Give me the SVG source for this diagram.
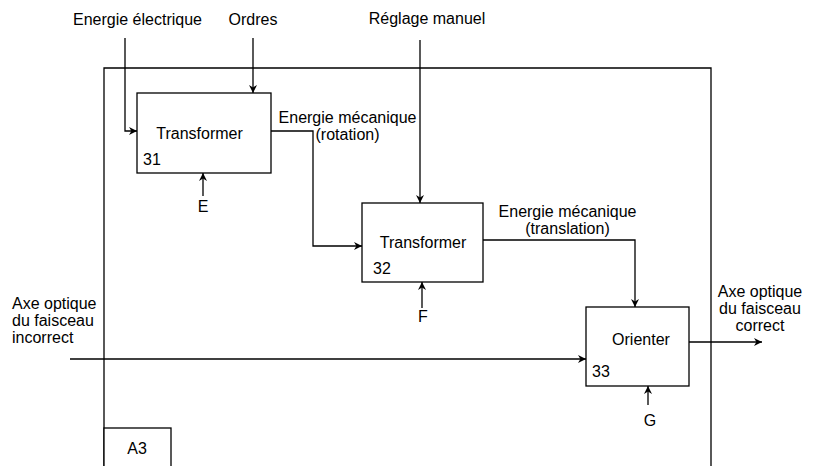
<svg xmlns="http://www.w3.org/2000/svg" width="817" height="466" viewBox="0 0 817 466">
<style>
.t{font-family:"Liberation Sans",Arial,sans-serif;font-size:16px;fill:#000}
.m{text-anchor:middle}
.b{fill:#fff;stroke:#000;stroke-width:1.3}
.c{fill:none;stroke:#000;stroke-width:1.3}
</style>
<defs>
<marker id="a" viewBox="0 0 10 10" refX="10" refY="5" markerWidth="8" markerHeight="8" markerUnits="userSpaceOnUse" orient="auto">
<path d="M0,0 L10,5 L0,10 L3,5 Z" fill="#000"/>
</marker>
</defs>
<rect width="817" height="466" fill="#fff"/>
<g id="frame">
<path class="c" d="M104,466 V68 H711 V466"/>
<rect class="b" x="104" y="428" width="67" height="40"/>
<text class="t m" x="137" y="454">A3</text>
</g>
<g id="connectors">
<path class="c" d="M125,38 V131 H137" marker-end="url(#a)"/>
<path class="c" d="M253,38 V93" marker-end="url(#a)"/>
<path class="c" d="M203,196 V173" marker-end="url(#a)"/>
<path class="c" d="M271,131 H313 V246 H362" marker-end="url(#a)"/>
<path class="c" d="M420,40 V203" marker-end="url(#a)"/>
<path class="c" d="M422,308 V282" marker-end="url(#a)"/>
<path class="c" d="M483,240 H635 V307" marker-end="url(#a)"/>
<path class="c" d="M70,359 H586" marker-end="url(#a)"/>
<path class="c" d="M648,405 V386" marker-end="url(#a)"/>
<path class="c" d="M689,342 H762" marker-end="url(#a)"/>
</g>
<g id="labels">
<text class="t" x="73" y="25">Energie électrique</text>
<text class="t m" x="253" y="25">Ordres</text>
<text class="t m" x="427" y="24">Réglage manuel</text>
<text class="t m" x="347.5" y="123">Energie mécanique</text>
<text class="t m" x="347.5" y="140">(rotation)</text>
<text class="t m" x="203" y="212">E</text>
<text class="t m" x="567.5" y="217">Energie mécanique</text>
<text class="t m" x="567.5" y="234">(translation)</text>
<text class="t m" x="423" y="322">F</text>
<text class="t" x="12" y="309">Axe optique</text>
<text class="t" x="12" y="326">du faisceau</text>
<text class="t" x="12" y="343">incorrect</text>
<text class="t m" x="760" y="297">Axe optique</text>
<text class="t m" x="760" y="314">du faisceau</text>
<text class="t m" x="760" y="331">correct</text>
<text class="t m" x="650" y="426">G</text>
</g>
<g id="n31">
<rect class="b" x="137" y="93" width="134" height="80"/>
<text class="t m" x="199.5" y="139">Transformer</text>
<text class="t" x="143" y="165">31</text>
</g>
<g id="n32">
<rect class="b" x="362" y="203" width="121" height="79"/>
<text class="t m" x="423" y="248">Transformer</text>
<text class="t" x="373" y="274">32</text>
</g>
<g id="n33">
<rect class="b" x="586" y="307" width="103" height="79"/>
<text class="t m" x="641" y="345">Orienter</text>
<text class="t" x="592" y="377">33</text>
</g>
</svg>
